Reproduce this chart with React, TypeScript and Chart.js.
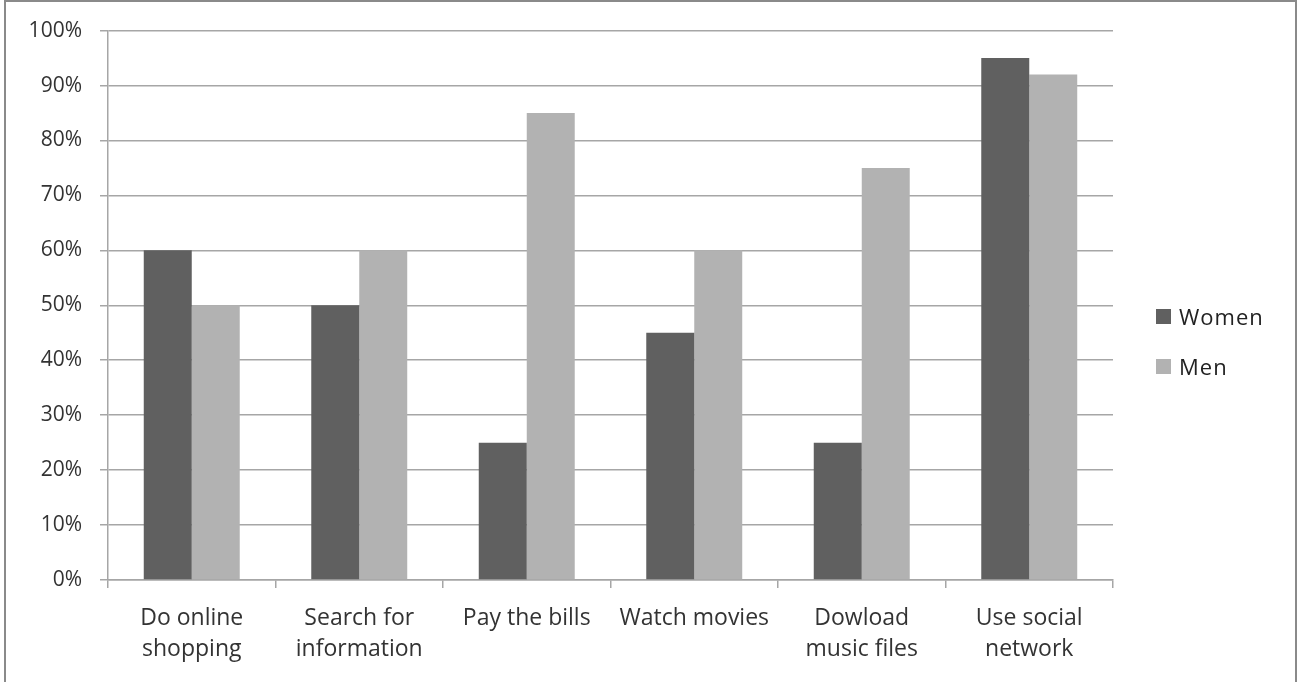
import React, { useEffect, useRef } from "react";
import { Chart, registerables } from "chart.js";

Chart.register(...registerables);

const categories: (string | string[])[] = [
  ["Do online", "shopping"],
  ["Search for", "information"],
  "Pay the bills",
  "Watch movies",
  ["Dowload", "music files"],
  ["Use social", "network"],
];
const women = [60, 50, 25, 45, 25, 95];
const men = [50, 60, 85, 60, 75, 92];
const seriesNames = ["Women", "Men"];
const seriesColors = ["#606060", "#b2b2b2"];

const FONT = "'Open Sans', sans-serif";
const TEXT = "#333333";
const GRID = "#a6a6a6";

export default function App() {
  const ref = useRef<HTMLCanvasElement | null>(null);

  useEffect(() => {
    if (!ref.current) return;
    const chart = new Chart(ref.current, {
      type: "bar",
      data: {
        labels: categories,
        datasets: [
          {
            label: seriesNames[0],
            data: women,
            backgroundColor: seriesColors[0],
            categoryPercentage: 0.573,
            barPercentage: 1,
          },
          {
            label: seriesNames[1],
            data: men,
            backgroundColor: seriesColors[1],
            categoryPercentage: 0.573,
            barPercentage: 1,
          },
        ],
      },
      options: {
        animation: false,
        responsive: false,
        devicePixelRatio: 1,
        layout: { padding: { left: 0, top: 30, right: 196, bottom: 0 } },
        plugins: {
          legend: { display: false },
          tooltip: { enabled: false },
        },
        scales: {
          x: {
            offset: true,
            grid: {
              display: true,
              drawOnChartArea: false,
              drawTicks: true,
              tickLength: 8,
              color: GRID,
              lineWidth: 1.5,
              offset: true,
            },
            border: { display: true, color: GRID, width: 1.5 },
            ticks: {
              color: TEXT,
              font: { family: FONT, size: 23, lineHeight: 1.35 },
              padding: 15,
              maxRotation: 0,
              minRotation: 0,
              autoSkip: false,
            },
            afterFit: (scale: any) => {
              scale.height = 102;
            },
          },
          y: {
            min: 0,
            max: 100,
            ticks: {
              stepSize: 10,
              color: TEXT,
              font: { family: FONT, size: 21 },
              padding: 18,
              callback: (v: any) => v + "%",
            },
            grid: {
              color: GRID,
              lineWidth: 1.5,
              tickLength: 8,
            },
            border: { display: true, color: GRID, width: 1.5 },
            afterFit: (scale: any) => {
              scale.width = 108;
            },
          },
        },
      },
    });
    return () => chart.destroy();
  }, []);

  return (
    <div
      style={{
        position: "fixed",
        left: 0,
        top: 0,
        width: 1309,
        height: 682,
        overflow: "hidden",
        background: "#fff",
      }}
    >
      <div
        style={{
          position: "absolute",
          left: 4,
          top: 0,
          width: 1289,
          height: 800,
          border: "2px solid #8a8a8a",
        }}
      />
      <canvas
        ref={ref}
        width={1309}
        height={682}
        style={{ position: "absolute", left: 0, top: 0, width: 1309, height: 682 }}
      />
      {seriesNames.map((name, i) => (
        <div
          key={name}
          style={{
            position: "absolute",
            left: 1156,
            top: 302 + i * 50,
            height: 28,
            display: "flex",
            alignItems: "center",
            fontFamily: FONT,
            fontSize: 22,
            letterSpacing: 1,
            color: "#222",
          }}
        >
          <span
            style={{
              display: "inline-block",
              width: 15,
              height: 15,
              background: seriesColors[i],
              marginRight: 8,
            }}
          />
          {name}
        </div>
      ))}
    </div>
  );
}
